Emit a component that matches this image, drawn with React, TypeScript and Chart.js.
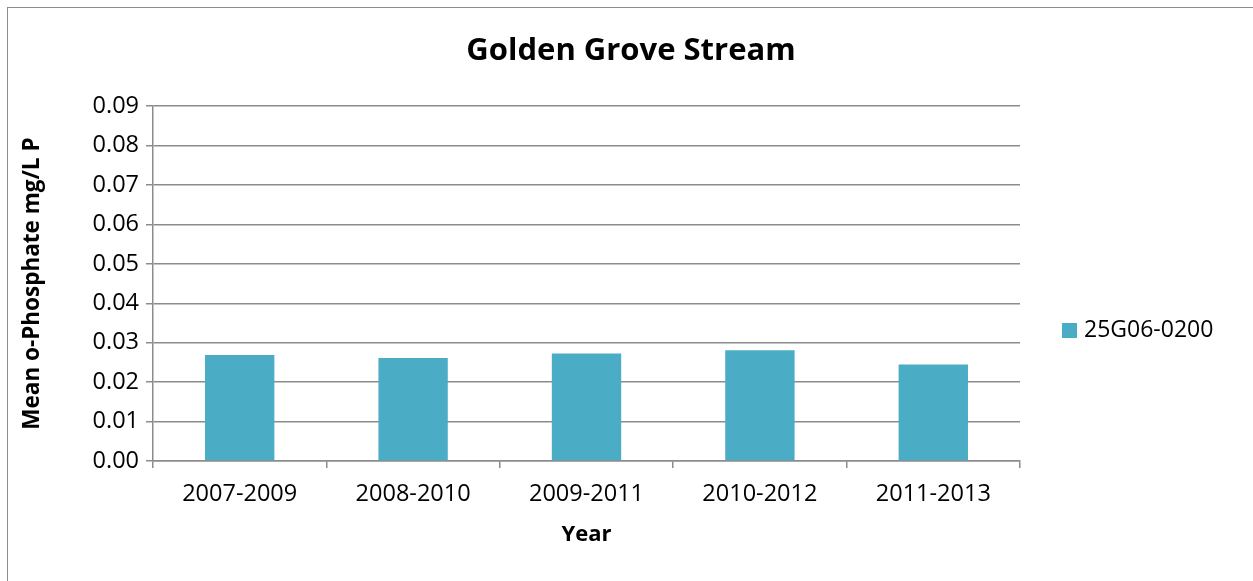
import React, { useEffect, useRef } from "react";
import { Chart, registerables } from "chart.js";

Chart.register(...registerables);

const chartTitle = "Golden Grove Stream";
const xAxisTitle = "Year";
const yAxisTitle = "Mean o-Phosphate mg/L P";
const categories = ["2007-2009", "2008-2010", "2009-2011", "2010-2012", "2011-2013"];
const seriesName = "25G06-0200";
const seriesValues = [0.0269, 0.0261, 0.0273, 0.0281, 0.0245];
const yMin = 0;
const yMax = 0.09;
const yStep = 0.01;

const FONT = "'Open Sans', 'Noto Sans', sans-serif";
const BAR_COLOR = "#4BACC6";
const GRID_COLOR = "#8c8c8c";

const legendPlugin = {
  id: "sideLegend",
  afterDraw(chart: any) {
    const { ctx, chartArea } = chart;
    const ds = chart.data.datasets[0];
    const boxX = chartArea.right + 42;
    const cy = 330.5;
    ctx.save();
    ctx.fillStyle = ds.backgroundColor;
    ctx.fillRect(boxX, cy - 7.5, 15, 15);
    ctx.fillStyle = "#000";
    ctx.font = `23px ${FONT}`;
    ctx.textBaseline = "middle";
    ctx.textAlign = "left";
    ctx.fillText(ds.label, boxX + 22, cy);
    ctx.restore();
  },
};

export default function App() {
  const canvasRef = useRef<HTMLCanvasElement | null>(null);

  useEffect(() => {
    if (!canvasRef.current) return;
    const chart = new Chart(canvasRef.current, {
      type: "bar",
      data: {
        labels: categories,
        datasets: [
          {
            label: seriesName,
            data: seriesValues,
            backgroundColor: BAR_COLOR,
            borderWidth: 0,
            barPercentage: 0.4,
            categoryPercentage: 1,
          },
        ],
      },
      options: {
        animation: false,
        responsive: false,
        maintainAspectRatio: false,
        layout: { padding: { left: 19, right: 10, top: 8, bottom: 8 } },
        plugins: {
          legend: { display: false },
          tooltip: { enabled: false },
          title: {
            display: true,
            text: chartTitle,
            color: "#000",
            font: { family: FONT, size: 31, weight: "bold" },
            padding: { top: 25, bottom: 36 },
          },
        },
        scales: {
          x: {
            offset: true,
            grid: {
              display: true,
              offset: true,
              drawOnChartArea: false,
              drawTicks: true,
              tickLength: 7,
              color: GRID_COLOR,
              lineWidth: 1.5,
            },
            border: { display: true, color: GRID_COLOR, width: 1.5 },
            ticks: {
              color: "#000",
              font: { family: FONT, size: 23.5 },
              padding: 12,
              maxRotation: 0,
              autoSkip: false,
            },
            title: {
              display: true,
              text: xAxisTitle,
              color: "#000",
              font: { family: FONT, size: 22, weight: "bold" },
              padding: { top: 0, bottom: 25 },
            },
            afterFit(scale: any) {
              scale.height = 112;
            },
          },
          y: {
            min: yMin,
            max: yMax,
            grid: {
              color: GRID_COLOR,
              lineWidth: 1.5,
              tickLength: 7,
            },
            border: { display: true, color: GRID_COLOR, width: 1.5 },
            ticks: {
              stepSize: yStep,
              color: "#000",
              font: { family: FONT, size: 23.5 },
              padding: 7,
              callback: (v: any) => Number(v).toFixed(2),
            },
            title: {
              display: true,
              text: yAxisTitle,
              color: "#000",
              font: { family: FONT, size: 22.5, weight: "bold" },
              padding: { top: 0, bottom: 0 },
            },
            afterFit(scale: any) {
              scale.width = 134;
            },
          },
          yRight: {
            type: "linear",
            position: "right",
            display: true,
            grid: { display: false, drawTicks: false },
            border: { display: false },
            ticks: { display: false },
            afterFit(scale: any) {
              scale.width = 223;
            },
          },
        },
      },
      plugins: [legendPlugin],
    } as any);
    return () => chart.destroy();
  }, []);

  return (
    <div style={{ position: "absolute", left: 0, top: 0, width: 1253, height: 581, background: "#fff" }}>
      <div
        style={{
          position: "absolute",
          left: 7,
          top: 7,
          width: 1246,
          height: 574,
          borderTop: "1.5px solid #8c8c8c",
          borderLeft: "1.5px solid #8c8c8c",
          boxSizing: "border-box",
        }}
      />
      <canvas ref={canvasRef} width={1253} height={581} style={{ position: "absolute", left: 0, top: 0 }} />
    </div>
  );
}
